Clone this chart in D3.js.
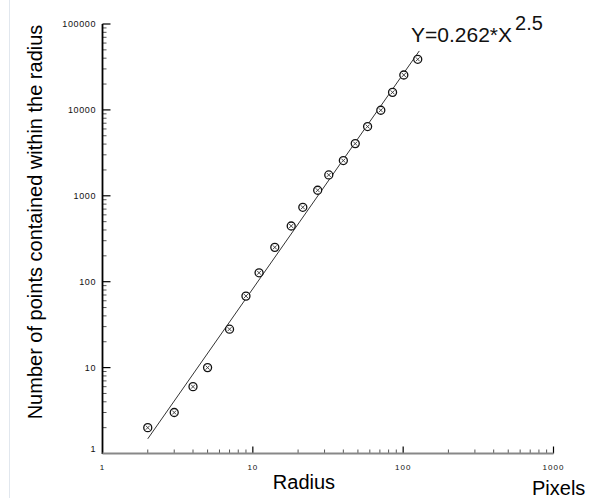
<!DOCTYPE html>
<html>
<head>
<meta charset="utf-8">
<script src="https://cdn.jsdelivr.net/npm/d3@7"></script>
<style>
  body { margin: 0; background: #fff; }
  svg text { font-family: "Liberation Sans", Arial, sans-serif; }
</style>
</head>
<body>
<svg id="chart" width="602" height="498"></svg>
<script>
// measured points: radius (pixels) vs number of points within the radius
const radius = [2, 3, 4, 5, 7, 9, 11, 14, 18, 21.5, 27, 32, 40, 48, 58, 71, 85, 101, 125];
const counts = [2, 3, 6, 10, 28, 68, 127, 251, 445, 735, 1160, 1750, 2570, 4050, 6400, 9900, 16000, 25500, 38800];

// power-law fit Y = a * X^b
const fitCoef = 0.262;
const fitExp = 2.5;
const fitRange = [2, 128];

const xTickValues = [1, 10, 100, 1000];
const yTickValues = [1, 10, 100, 1000, 10000, 100000];

const svg = d3.select("#chart");

// faint frame line at left edge
svg.append("line")
    .attr("x1", 9.5).attr("x2", 9.5)
    .attr("y1", 0).attr("y2", 498)
    .attr("stroke", "#e1e7ee");

const x = d3.scaleLog().domain([1, 1000]).range([102.5, 553.5]);
const y = d3.scaleLog().domain([1, 100000]).range([453.5, 24]);

// minor ticks for each decade
const minorX = d3.range(0, 3).flatMap(e => d3.range(2, 10).map(m => m * Math.pow(10, e)));
const minorY = d3.range(0, 5).flatMap(e => d3.range(2, 10).map(m => m * Math.pow(10, e)));

const chart = svg.append("g");

// y axis
chart.selectAll(".yminor")
    .data(minorY)
    .join("line")
    .attr("class", "yminor")
    .attr("x1", x(1)).attr("x2", x(1) + 4)
    .attr("y1", d => y(d)).attr("y2", d => y(d))
    .attr("stroke", "#555").attr("stroke-width", 1);

chart.selectAll(".ymajor")
    .data(yTickValues.slice(1))
    .join("line")
    .attr("class", "ymajor")
    .attr("x1", x(1)).attr("x2", x(1) + 8)
    .attr("y1", d => y(d)).attr("y2", d => y(d))
    .attr("stroke", "#000").attr("stroke-width", 1.2);

chart.append("line")
    .attr("x1", x(1)).attr("x2", x(1))
    .attr("y1", y(100000)).attr("y2", y(1) + 0.5)
    .attr("stroke", "#000").attr("stroke-width", 1.8);

chart.selectAll(".ylabel")
    .data(yTickValues)
    .join("text")
    .attr("class", "ylabel")
    .attr("x", 96)
    .attr("y", d => y(d) + (d === 1 ? -5 : 0))
    .attr("dy", "0.35em")
    .attr("text-anchor", "end")
    .attr("font-size", "9px")
    .attr("letter-spacing", "0.6px")
    .attr("fill", "#111")
    .text(d => d);

// x axis
chart.selectAll(".xminor")
    .data(minorX)
    .join("line")
    .attr("class", "xminor")
    .attr("x1", d => x(d)).attr("x2", d => x(d))
    .attr("y1", y(1)).attr("y2", y(1) - 4)
    .attr("stroke", "#555").attr("stroke-width", 1);

chart.selectAll(".xmajor")
    .data(xTickValues.slice(1))
    .join("line")
    .attr("class", "xmajor")
    .attr("x1", d => x(d)).attr("x2", d => x(d))
    .attr("y1", y(1)).attr("y2", y(1) - 7)
    .attr("stroke", "#000").attr("stroke-width", 1.2);

chart.append("line")
    .attr("x1", x(1)).attr("x2", x(1000))
    .attr("y1", y(1)).attr("y2", y(1))
    .attr("stroke", "#888").attr("stroke-width", 1.8);

chart.selectAll(".xlabel")
    .data(xTickValues)
    .join("text")
    .attr("class", "xlabel")
    .attr("x", d => x(d))
    .attr("y", 470)
    .attr("text-anchor", "middle")
    .attr("font-size", "8px")
    .attr("letter-spacing", "1px")
    .attr("fill", "#111")
    .text(d => d);

// fit line
chart.append("line")
    .attr("x1", x(fitRange[0])).attr("y1", y(fitCoef * Math.pow(fitRange[0], fitExp)))
    .attr("x2", x(fitRange[1])).attr("y2", y(fitCoef * Math.pow(fitRange[1], fitExp)))
    .attr("stroke", "#333").attr("stroke-width", 1);

// markers: circle with a cross
const pts = radius.map((r, i) => ({ r: r, n: counts[i] }));
const mk = chart.selectAll(".pt")
    .data(pts)
    .join("g")
    .attr("class", "pt")
    .attr("transform", d => `translate(${x(d.r)},${y(d.n)})`);

mk.append("circle")
    .attr("r", 4)
    .attr("fill", "#fff")
    .attr("stroke", "#111")
    .attr("stroke-width", 1.3);

mk.append("path")
    .attr("d", "M-2,-2L2,2M-2,2L2,-2")
    .attr("stroke", "#333")
    .attr("stroke-width", 0.9);

// titles
svg.append("text")
    .attr("transform", "translate(42,222) rotate(-90)")
    .attr("text-anchor", "middle")
    .attr("font-size", "20px")
    .text("Number of points contained within the radius");

svg.append("text")
    .attr("x", 304).attr("y", 489)
    .attr("text-anchor", "middle")
    .attr("font-size", "20px")
    .text("Radius");

svg.append("text")
    .attr("x", 532).attr("y", 495)
    .attr("font-size", "20px")
    .text("Pixels");

const eq = svg.append("text")
    .attr("x", 411).attr("y", 42)
    .attr("font-size", "21px")
    .attr("fill", "#111");
eq.append("tspan").text(`Y=${fitCoef}*X`);
eq.append("tspan")
    .attr("dx", 3).attr("dy", -12)
    .attr("font-size", "20px")
    .text(fitExp);
</script>
</body>
</html>
